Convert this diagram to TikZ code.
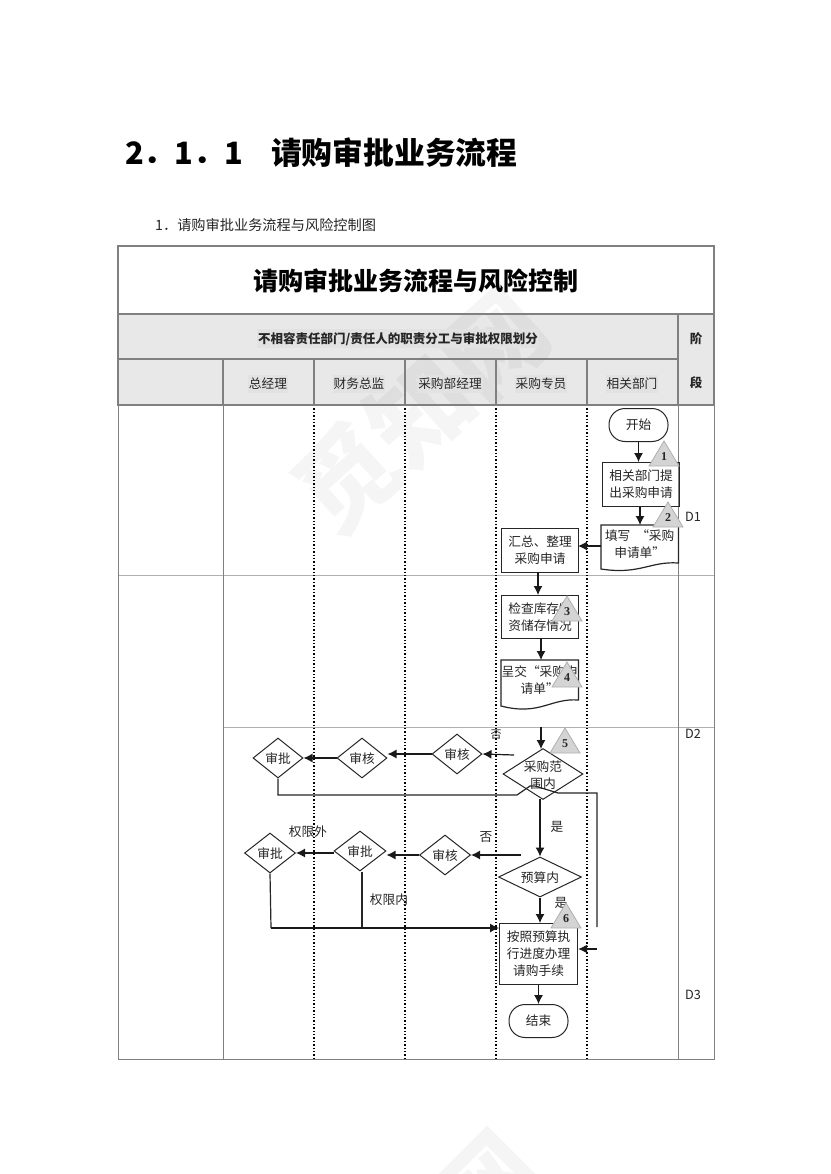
\documentclass[tikz,border=0pt]{standalone}
\usepackage{fontspec}
\setmainfont{Noto Sans CJK SC}
\newfontfamily\numfont{Liberation Serif}
\usetikzlibrary{shapes.geometric,arrows.meta}
\definecolor{hdr}{HTML}{E8E8E8}
\definecolor{hdt}{HTML}{E2E2E2}
\definecolor{rulec}{HTML}{808080}
\definecolor{thinc}{HTML}{B0B0B0}
\definecolor{tric}{HTML}{D4D4D4}
\tikzset{
  x=1pt,y=-1pt,
  txt/.style={font=\fontsize{12.7}{17}\selectfont,align=center,inner sep=0pt,text=black!85},
  lab/.style={txt,yshift=-.8pt},
  hlab/.style={lab,fill=hdt,inner xsep=1pt,inner ysep=3pt},
  diam/.style={diamond,draw=black!85,line width=1pt,inner sep=0pt,minimum width=#1},
  diam/.default=50,
  boxn/.style={draw=black!85,line width=1.2pt,inner sep=0pt,txt,anchor=north west},
  term/.style={draw=black!85,line width=1pt,inner sep=0pt,txt,rectangle},
  flow/.style={black!90,line width=1.2pt,-{Latex[length=9pt,width=9pt]}},
  plain/.style={black!85,line width=1.2pt},
  lane/.style={black,line width=1.4pt,dotted},
  thin/.style={thinc,line width=.9pt},
  tri/.style={fill=tric,draw=thinc,line width=.8pt},
  trin/.style={font=\numfont\bfseries\fontsize{12}{12}\selectfont,inner sep=0pt,text=black!85},
  wmark/.style={font=\bfseries\fontsize{100}{100}\selectfont,text=black,text opacity=.04,inner sep=0pt}
}
\newcommand{\risk}[4]{% name, apex x, apex y, number
  \draw[tri] (#2,#3) -- (#2-15,#3+25) -- (#2+15,#3+25) -- cycle;
  \node[trin] (#1) at (#2,#3+16) {#4};}
\begin{document}
\begin{tikzpicture}
\useasboundingbox (0,0) rectangle (830,1174);
\fill[white] (0,0) rectangle (830,1174);
% headings
\node[anchor=west,inner sep=0pt,font=\bfseries\fontsize{30.8}{36}\selectfont] (h1) at (125,153) {2．1．1\hspace{28pt}请购审批业务流程};
\node[anchor=west,inner sep=0pt,font=\fontsize{14.2}{18}\selectfont,text=black!85] (h2) at (155,225.5) {1．请购审批业务流程与风险控制图};
% table
\fill[hdr] (118,314) rectangle (714,405);
% watermark
\begin{scope}
\clip (0,0) rectangle (830,1174);
\node[wmark,rotate=42] (wma) at (420,411) {觅知网};
\node[wmark,rotate=45] (wmb) at (416,1257) {觅知网};
\end{scope}
\draw[thin] (118,575) -- (714,575);
\draw[thin] (223,727) -- (714,727);
\draw[rulec,line width=1pt] (118,405) -- (118,1059) -- (714,1059) -- (714,405);
\draw[rulec,line width=1pt] (223,405) -- (223,1059);
\draw[rulec,line width=1pt] (678,405) -- (678,1059);
\draw[lane] (314,405) -- (314,1059);
\draw[lane] (405,405) -- (405,1059);
\draw[lane] (496,405) -- (496,1059);
\draw[lane] (587,405) -- (587,1059);
\draw[rulec,line width=1.6pt] (118,246) rectangle (714,405);
\draw[rulec,line width=1.6pt] (118,314) -- (714,314);
\draw[rulec,line width=1.6pt] (118,359) -- (678,359);
\draw[rulec,line width=1.6pt] (118,405) -- (714,405);
\foreach \xx in {223,314,405,496,587} \draw[rulec,line width=1.6pt] (\xx,359) -- (\xx,405);
\draw[rulec,line width=1.6pt] (678,314) -- (678,405);
\node[inner sep=0pt,font=\bfseries\fontsize{25}{30}\selectfont] (title) at (416,281) {请购审批业务流程与风险控制};
\node[hlab,font=\bfseries\fontsize{12.5}{16}\selectfont] (sub) at (398,338) {不相容责任部门/责任人的职责分工与审批权限划分};
\node[lab,font=\bfseries\fontsize{12.5}{16}\selectfont] (j1) at (696,338) {阶};
\node[lab,font=\bfseries\fontsize{12.5}{16}\selectfont] (j2) at (696,382) {段};
\node[hlab] (c1) at (268,383) {总经理};
\node[hlab] (c2) at (359,383) {财务总监};
\node[hlab] (c3) at (450,383) {采购部经理};
\node[hlab] (c4) at (541,383) {采购专员};
\node[hlab] (c5) at (632,383) {相关部门};
\node[lab] (d1) at (693,516) {D1};
\node[lab] (d2) at (693,733) {D2};
\node[lab] (d3) at (693,994) {D3};
% flow nodes
\node[term,minimum width=59pt,minimum height=33pt,rounded corners=16pt] (start) at (638.5,425) {开始};
\node[boxn,minimum width=77pt,minimum height=44pt] (apply) at (602,462) {相关部门提\\出采购申请};
\node[txt,minimum width=77pt,minimum height=38pt,anchor=north west] (fill) at (601,525) {填写 \hspace{3pt}“采购\\申请单”};
\draw[plain] (fill.north west) -- (fill.north east) -- ++(0,38) .. controls (650,561) and (640,575) .. (601,569) -- cycle;
\node[boxn,minimum width=77pt,minimum height=44pt] (sum) at (501,528) {汇总、整理\\采购申请};
\node[boxn,minimum width=77pt,minimum height=43pt] (check) at (501,595) {检查库存物\\资储存情况};
\node[txt,minimum width=77pt,minimum height=40pt,anchor=north west] (sub2) at (501,660) {呈交“采购申\\请单”};
\draw[plain] (sub2.north west) -- (sub2.north east) -- ++(0,40) .. controls (550,698) and (540,716) .. (501,706) -- cycle;
\node[diam=80,minimum height=51pt,label={[lab]center:采购范\\围内}] (scope) at (543,774) {};
\node[diam,minimum height=40pt,label={[lab]center:审核}] (ra) at (457,754) {};
\node[diam,minimum height=40pt,label={[lab]center:审核}] (rb) at (362,758) {};
\node[diam,minimum height=40pt,label={[lab]center:审批}] (rc) at (278,758) {};
\node[diam=83,minimum height=40pt,label={[lab]center:预算内}] (budget) at (540,877) {};
\node[diam=51,minimum height=40pt,label={[lab]center:审核}] (sa) at (445,855) {};
\node[diam=52,minimum height=40pt,label={[lab]center:审批}] (sb) at (360,851) {};
\node[diam=51,minimum height=40pt,label={[lab]center:审批}] (sc) at (270,853) {};
\node[boxn,minimum width=78pt,minimum height=61pt] (proc) at (499,923) {按照预算执\\行进度办理\\请购手续};
\node[term,minimum width=59pt,minimum height=33pt,rounded corners=16pt] (finish) at (538.5,1021) {结束};
% connector end points
\coordinate (pa) at (514,755);
\coordinate (pb) at (521,855);
\coordinate (pc) at (278,795);
\coordinate (pd) at (517,795);
\coordinate (pe) at (530,786);
\coordinate (pf) at (558,793);
\coordinate (pg) at (597,793);
\coordinate (ph) at (597,927);
\coordinate (pi) at (597,949);
\coordinate (pj) at (271,928);
\coordinate (pk) at (362,928);
\coordinate (topscope) at (541,727);
% connectors
\draw[flow] (start.south) -- (638.5,462);
\draw[flow] (apply.south -| 640,0) -- (640,525);
\draw[flow] (601,546) -- (578,546);
\draw[flow] (538,572) -- (538,595);
\draw[flow] (541,638) -- (541,660);
\draw[flow] (topscope) -- (541,749);
\draw[flow] (pa) -- (ra.east);
\draw[flow] (ra.west) -- (rb.east |- ra.west);
\draw[flow] (rb.west) -- (rc.east);
\draw[plain] (rc.south) -- (pc) -- (pd) -- (pe) -- (535,786) -- (pf) -- (pg) -- (ph);
\draw[flow] (pi) -- (proc.east |- pi);
\draw[flow] (540,799) -- (budget.north);
\draw[flow] (budget.south) -- (proc.north -| budget.south);
\draw[flow] (proc.south -| finish.south) -- (finish.north);
\draw[flow] (pb) -- (sa.east);
\draw[flow] (sa.west) -- (sb.east |- sa.west);
\draw[flow] (sb.west |- sc.east) -- (sc.east);
\draw[plain] (sc.south) -- (pj);
\draw[plain] (sb.south -| pk) -- (pk);
\draw[flow] (pj) -- (proc.west |- pj);
% labels
\node[lab,font=\fontsize{11}{12}\selectfont] (no1) at (496,734) {否};
\node[lab] (yes1) at (557,826) {是};
\node[lab] (no2) at (486,836) {否};
\node[lab] (out) at (308,831) {权限外};
\node[lab] (in) at (389,899) {权限内};
\node[lab] (yes2) at (561,902) {是};
% risk marks
\risk{r1}{664}{441}{1}
\risk{r2}{668}{502}{2}
\risk{r3}{567}{596}{3}
\risk{r4}{567}{662}{4}
\risk{r5}{565}{728}{5}
\risk{r6}{566}{903}{6}
\end{tikzpicture}
\end{document}
